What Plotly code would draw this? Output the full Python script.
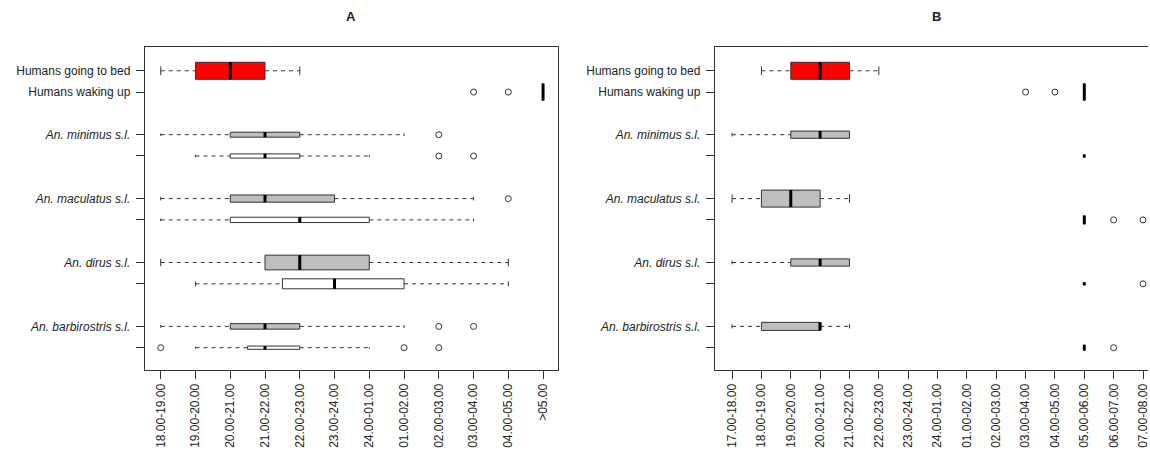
import plotly.graph_objects as go

# ---------------- data ----------------
row_labels = ["Humans going to bed", "Humans waking up",
              "<i>An. minimus s.l.</i>", "",
              "<i>An. maculatus s.l.</i>", "",
              "<i>An. dirus s.l.</i>", "",
              "<i>An. barbirostris s.l.</i>", ""]
row_pos = [14, 13, 11, 10, 8, 7, 5, 4, 2, 1]
row_fill = ["#FF0000", "#FF0000", "#BEBEBE", "#FFFFFF", "#BEBEBE", "#FFFFFF",
            "#BEBEBE", "#FFFFFF", "#BEBEBE", "#FFFFFF"]

a_ticks = ["18.00-19.00", "19.00-20.00", "20.00-21.00", "21.00-22.00", "22.00-23.00",
           "23.00-24.00", "24.00-01.00", "01.00-02.00", "02.00-03.00", "03.00-04.00",
           "04.00-05.00", ">05.00"]
a_low = [1, 12, 1, 2, 1, 1, 1, 2, 1, 2]
a_q1 = [2, 12, 3, 3, 3, 3, 4, 4.5, 3, 3.5]
a_med = [3, 12, 4, 4, 4, 5, 5, 6, 4, 4]
a_q3 = [4, 12, 5, 5, 6, 7, 7, 8, 5, 5]
a_high = [5, 12, 8, 7, 10, 10, 11, 11, 8, 7]
a_out = [[], [10, 11], [9], [9, 10], [11], [], [], [], [9, 10], [1, 8, 9]]
a_width = [0.8, 0.8, 0.235, 0.2, 0.34, 0.25, 0.69, 0.47, 0.26, 0.155]

b_ticks = ["17.00-18.00", "18.00-19.00", "19.00-20.00", "20.00-21.00", "21.00-22.00",
           "22.00-23.00", "23.00-24.00", "24.00-01.00", "01.00-02.00", "02.00-03.00",
           "03.00-04.00", "04.00-05.00", "05.00-06.00", "06.00-07.00", "07.00-08.00"]
b_low = [2, 13, 1, 13, 1, 13, 1, 13, 1, 13]
b_q1 = [3, 13, 3, 13, 2, 13, 3, 13, 2, 13]
b_med = [4, 13, 4, 13, 3, 13, 4, 13, 4, 13]
b_q3 = [5, 13, 5, 13, 4, 13, 5, 13, 4, 13]
b_high = [6, 13, 5, 13, 5, 13, 5, 13, 5, 13]
b_out = [[], [11, 12], [], [], [], [14, 15], [], [15], [], [14]]
b_width = [0.8, 0.8, 0.34, 0.14, 0.8, 0.42, 0.34, 0.14, 0.38, 0.27]

# ---------------- style ----------------
FONT = "Liberation Sans, Arial, sans-serif"
INK = "#333333"
W, H = 1150, 455


def fx(px):
    return px / W


def fy(py):
    return 1 - py / H


fig = go.Figure()


def add_panel(xa, ya, low, q1, med, q3, high, out, width):
    xref = "x" if xa == 1 else "x%d" % xa
    yref = "y" if ya == 1 else "y%d" % ya
    for i, p in enumerate(row_pos):
        fig.add_trace(go.Box(
            orientation="h", y=[p], q1=[q1[i]], median=[med[i]], q3=[q3[i]],
            lowerfence=[q1[i]], upperfence=[q3[i]], width=width[i],
            fillcolor=row_fill[i], line=dict(color=INK, width=1),
            whiskerwidth=0, boxpoints=False, showlegend=False, hoverinfo="skip",
            xaxis=xref, yaxis=yref))
    wx, wy, cx, cy, mx, my, ox, oy = [], [], [], [], [], [], [], []
    for i, p in enumerate(row_pos):
        if low[i] < q1[i]:
            wx += [low[i], q1[i], None]
            wy += [p, p, None]
        if high[i] > q3[i]:
            wx += [q3[i], high[i], None]
            wy += [p, p, None]
        hs = width[i] * 0.25
        for v in (low[i], high[i]):
            cx += [v, v, None]
            cy += [p - hs, p + hs, None]
        hw = width[i] / 2
        mx += [med[i], med[i], None]
        my += [p - hw, p + hw, None]
        for v in out[i]:
            ox.append(v)
            oy.append(p)
    fig.add_trace(go.Scatter(x=wx, y=wy, mode="lines",
                             line=dict(color=INK, width=1, dash="4px,4px"),
                             showlegend=False, hoverinfo="skip", xaxis=xref, yaxis=yref))
    fig.add_trace(go.Scatter(x=cx, y=cy, mode="lines", line=dict(color=INK, width=1),
                             showlegend=False, hoverinfo="skip", xaxis=xref, yaxis=yref))
    fig.add_trace(go.Scatter(x=mx, y=my, mode="lines", line=dict(color="#000000", width=3),
                             showlegend=False, hoverinfo="skip", xaxis=xref, yaxis=yref))
    fig.add_trace(go.Scatter(x=ox, y=oy, mode="markers",
                             marker=dict(symbol="circle-open", size=6,
                                         line=dict(color=INK, width=1), color=INK),
                             showlegend=False, hoverinfo="skip", xaxis=xref, yaxis=yref,
                             cliponaxis=False))


add_panel(1, 1, a_low, a_q1, a_med, a_q3, a_high, a_out, a_width)
add_panel(2, 2, b_low, b_q1, b_med, b_q3, b_high, b_out, b_width)

ydom = [fy(370), fy(47)]
yrange = [-0.047, 15.117]
tickfont = dict(family=FONT, size=12, color="#222222")
common_x = dict(showgrid=False, zeroline=False, showline=True, mirror=True,
                linecolor=INK, linewidth=1, ticks="outside", ticklen=8, tickcolor=INK,
                tickangle=-90, tickfont=tickfont, tickmode="array",
                ticklabeloverflow="allow")
common_y = dict(showgrid=False, zeroline=False, showline=True, linecolor=INK, linewidth=1,
                ticks="outside", ticklen=8, tickcolor=INK, tickfont=tickfont,
                tickmode="array", tickvals=row_pos, ticktext=row_labels,
                range=yrange, domain=ydom, ticklabelstandoff=3)

fig.update_layout(
    width=W, height=H, margin=dict(l=0, r=0, t=0, b=0),
    paper_bgcolor="white", plot_bgcolor="white",
    font=dict(family=FONT, color="#222222"),
    xaxis=dict(common_x, domain=[fx(145), fx(559)], range=[0.54, 12.43],
               tickvals=list(range(1, len(a_ticks) + 1)), ticktext=a_ticks, anchor="y"),
    yaxis=dict(common_y, mirror=True, anchor="x"),
    xaxis2=dict(common_x, domain=[fx(716), 1.0], range=[0.41, 15.17],
                tickvals=list(range(1, len(b_ticks) + 1)), ticktext=b_ticks, anchor="y2"),
    yaxis2=dict(common_y, mirror=False, anchor="x2"),
    annotations=[
        dict(text="<b>A</b>", x=fx(352), y=fy(17), xref="paper", yref="paper",
             showarrow=False, font=dict(family=FONT, size=13, color="#222222"),
             xanchor="center", yanchor="middle"),
        dict(text="<b>B</b>", x=fx(938), y=fy(17), xref="paper", yref="paper",
             showarrow=False, font=dict(family=FONT, size=13, color="#222222"),
             xanchor="center", yanchor="middle"),
    ],
)

fig.write_html("out.html", config={"displayModeBar": False},
               post_script="document.body.style.margin='0';"
                           "document.body.style.overflow='hidden';")
